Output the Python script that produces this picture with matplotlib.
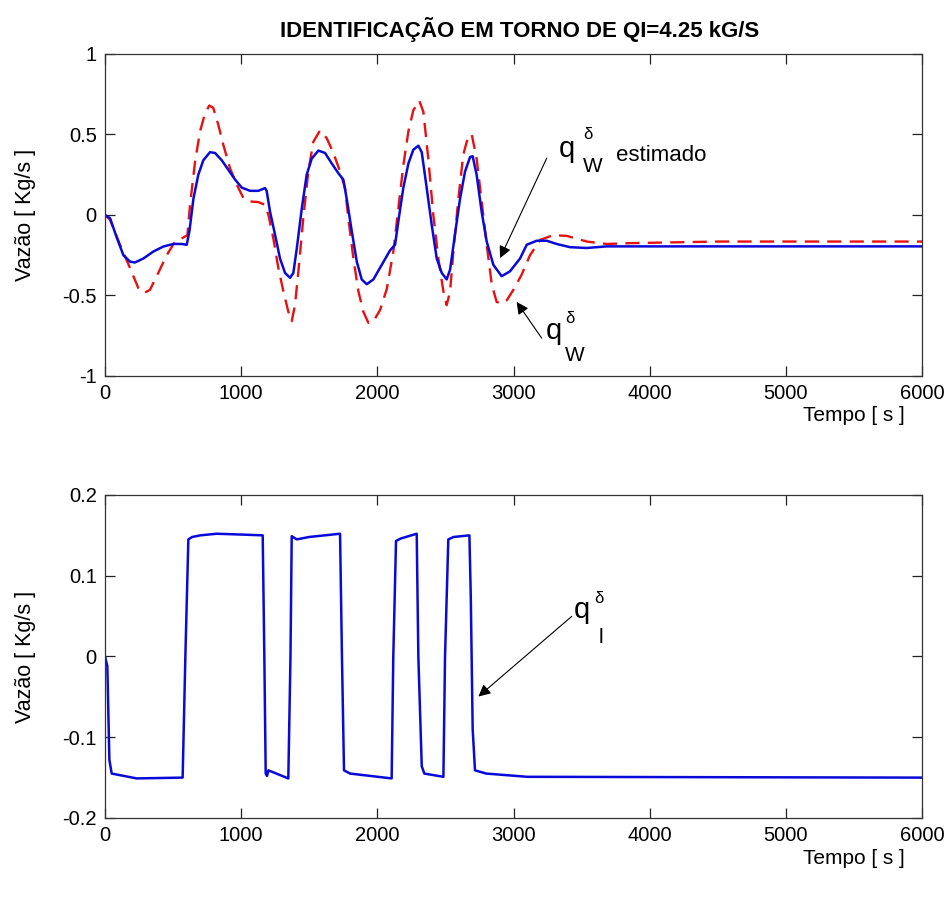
import matplotlib
matplotlib.use("Agg")
import matplotlib.pyplot as plt

plt.rcParams['font.family'] = ['Liberation Sans', 'DejaVu Sans']

# Estimated water flow deviation (solid blue), seconds / kg/s
t_est = [0, 37, 86, 135, 184, 220, 282, 355, 428, 502, 563, 600, 620, 649, 685, 722,
         771, 808, 857, 906, 955, 1004, 1065, 1126, 1175, 1187, 1212, 1248, 1285, 1322,
         1359, 1383, 1408, 1445, 1481, 1518, 1567, 1616, 1665, 1713, 1750, 1775, 1812,
         1849, 1885, 1922, 1971, 2032, 2093, 2130, 2154, 2191, 2228, 2264, 2301, 2326,
         2362, 2399, 2436, 2473, 2509, 2534, 2570, 2607, 2644, 2681, 2700, 2729, 2766,
         2803, 2852, 2913, 2974, 3048, 3097, 3170, 3244, 3317, 3415, 3538, 3684, 4500,
         6000]
q_est = [0.0, -0.02, -0.14, -0.25, -0.29, -0.295, -0.27, -0.227, -0.196, -0.18, -0.18,
         -0.185, -0.10, 0.10, 0.25, 0.34, 0.39, 0.385, 0.34, 0.28, 0.22, 0.17, 0.15,
         0.15, 0.167, 0.15, 0.02, -0.12, -0.27, -0.36, -0.39, -0.36, -0.21, 0.04, 0.25,
         0.35, 0.40, 0.385, 0.32, 0.26, 0.22, 0.10, -0.10, -0.29, -0.40, -0.43, -0.40,
         -0.31, -0.22, -0.185, -0.04, 0.17, 0.32, 0.405, 0.43, 0.39, 0.17, -0.06, -0.27,
         -0.36, -0.40, -0.34, -0.12, 0.10, 0.27, 0.36, 0.365, 0.25, 0.02, -0.165, -0.31,
         -0.38, -0.35, -0.27, -0.185, -0.16, -0.16, -0.18, -0.20, -0.205, -0.195, -0.195,
         -0.195]

# Measured water flow deviation (dashed red)
t_real = [0, 37, 110, 184, 245, 286, 330, 391, 453, 514, 575, 605, 624, 661, 698, 734,
          766, 795, 832, 869, 918, 967, 1016, 1065, 1126, 1175, 1200, 1236, 1273, 1310,
          1346, 1371, 1395, 1420, 1456, 1493, 1530, 1579, 1628, 1677, 1726, 1763, 1787,
          1824, 1861, 1897, 1934, 1971, 2020, 2069, 2117, 2154, 2191, 2228, 2264, 2308,
          2338, 2374, 2411, 2448, 2485, 2509, 2534, 2558, 2595, 2631, 2668, 2693, 2729,
          2766, 2803, 2840, 2876, 2913, 2950, 2999, 3060, 3121, 3195, 3292, 3391, 3538,
          3684, 3856, 4500, 6000]
q_real = [0.0, -0.03, -0.185, -0.33, -0.455, -0.485, -0.465, -0.36, -0.25, -0.165,
          -0.14, -0.125, 0.06, 0.33, 0.52, 0.63, 0.68, 0.665, 0.56, 0.435, 0.29, 0.19,
          0.105, 0.084, 0.08, 0.063, 0.0, -0.145, -0.33, -0.475, -0.60, -0.66, -0.56,
          -0.35, -0.02, 0.27, 0.455, 0.525, 0.477, 0.385, 0.27, 0.166, -0.02, -0.27,
          -0.475, -0.60, -0.67, -0.66, -0.59, -0.46, -0.23, 0.04, 0.31, 0.52, 0.65, 0.71,
          0.64, 0.35, 0.0, -0.27, -0.475, -0.56, -0.475, -0.23, 0.10, 0.375, 0.49, 0.50,
          0.35, 0.084, -0.185, -0.43, -0.54, -0.55, -0.53, -0.465, -0.37, -0.25, -0.155,
          -0.125, -0.13, -0.165, -0.18, -0.175, -0.165, -0.165]

# Liquid flow input deviation (bottom panel)
t_in = [0, 17, 32, 49, 233, 570, 590, 612, 640, 700, 820, 1000, 1158, 1170, 1180,
        1190, 1200, 1346, 1362, 1371, 1408, 1500, 1726, 1740, 1755, 1800, 2105, 2117,
        2137, 2170, 2289, 2301, 2326, 2345, 2485, 2497, 2521, 2560, 2676, 2686, 2700,
        2717, 2800, 3100, 6000]
q_in = [0.0, -0.012, -0.128, -0.145, -0.151, -0.150, 0.0, 0.145, 0.148, 0.150, 0.152,
        0.151, 0.150, 0.0, -0.145, -0.148, -0.141, -0.151, 0.0, 0.149, 0.145, 0.148,
        0.152, 0.0, -0.141, -0.145, -0.151, 0.0, 0.143, 0.146, 0.152, 0.0, -0.136,
        -0.145, -0.149, 0.0, 0.145, 0.148, 0.150, 0.075, -0.09, -0.141, -0.145, -0.149,
        -0.150]

x_ticks = [0, 1000, 2000, 3000, 4000, 5000, 6000]
y_ticks_top = [-1, -0.5, 0, 0.5, 1]
y_ticks_bottom = [-0.2, -0.1, 0, 0.1, 0.2]
y_ticklabels_top = ['-1', '-0.5', '0', '0.5', '1']
y_ticklabels_bottom = ['-0.2', '-0.1', '0', '0.1', '0.2']

title = 'IDENTIFICAÇÃO EM TORNO DE QI=4.25 kG/S'
ylabel = 'Vazão [ Kg/s ]'
xlabel = 'Tempo [ s ]'

fig = plt.figure(figsize=(9.53, 8.98), dpi=100)
ax1 = fig.add_axes([0.1102, 0.5813, 0.8573, 0.3586])
ax2 = fig.add_axes([0.1102, 0.0891, 0.8573, 0.3597])

BLUE = '#0a0ad8'
RED = '#e81010'

ax1.plot(t_real, q_real, color=RED, lw=1.7, dashes=(6, 3.5))
ax1.plot(t_est, q_est, color=BLUE, lw=1.8)
ax2.plot(t_in, q_in, color=BLUE, lw=1.8)

for ax, yt, ytl, ylim in ((ax1, y_ticks_top, y_ticklabels_top, (-1, 1)),
                          (ax2, y_ticks_bottom, y_ticklabels_bottom, (-0.2, 0.2))):
    ax.set_xlim(0, 6000)
    ax.set_ylim(*ylim)
    ax.set_xticks(x_ticks)
    ax.set_xticklabels([str(v) for v in x_ticks])
    ax.set_yticks(yt)
    ax.set_yticklabels(ytl)
    ax.tick_params(direction='in', length=7, width=0.9, labelsize=14.5,
                   top=True, right=True, pad=6, colors='#222222', labelcolor='black')
    for s in ax.spines.values():
        s.set_linewidth(0.9)
        s.set_color('#333333')
    ax.set_ylabel(ylabel, fontsize=15.5, labelpad=19)
    ax.text(0.979, -0.124, xlabel, transform=ax.transAxes, ha='right', va='center',
            fontsize=15)

ax1.set_title(title, fontsize=16, fontweight='bold',
              family=['Liberation Sans Narrow', 'Liberation Sans', 'DejaVu Sans'],
              pad=12, x=0.508)

arrow = dict(arrowstyle='-|>', color='black', lw=0.8, mutation_scale=18,
             shrinkA=0, shrinkB=0)

# Annotation for the estimated flow
ax1.annotate('', xy=(2901, -0.268), xytext=(3244, 0.353), arrowprops=arrow)
ax1.text(3330, 0.41, 'q', fontsize=21, ha='left', va='center')
ax1.text(3510, 0.50, 'δ', fontsize=12, ha='left', va='center')
ax1.text(3510, 0.30, 'W', fontsize=15, ha='left', va='center')
ax1.text(3750, 0.37, 'estimado', fontsize=16, ha='left', va='center')

# Annotation for the measured flow
ax1.annotate('', xy=(3023, -0.54), xytext=(3207, -0.765), arrowprops=arrow)
ax1.text(3240, -0.72, 'q', fontsize=21, ha='left', va='center')
ax1.text(3380, -0.64, 'δ', fontsize=12, ha='left', va='center')
ax1.text(3380, -0.87, 'W', fontsize=15, ha='left', va='center')

# Annotation for the liquid input
ax2.annotate('', xy=(2742, -0.0496), xytext=(3427, 0.0496), arrowprops=arrow)
ax2.text(3440, 0.058, 'q', fontsize=21, ha='left', va='center')
ax2.text(3590, 0.072, 'δ', fontsize=12, ha='left', va='center')
ax2.text(3625, 0.023, 'l', fontsize=15, ha='left', va='center')

fig.savefig('out.png', dpi=100)
